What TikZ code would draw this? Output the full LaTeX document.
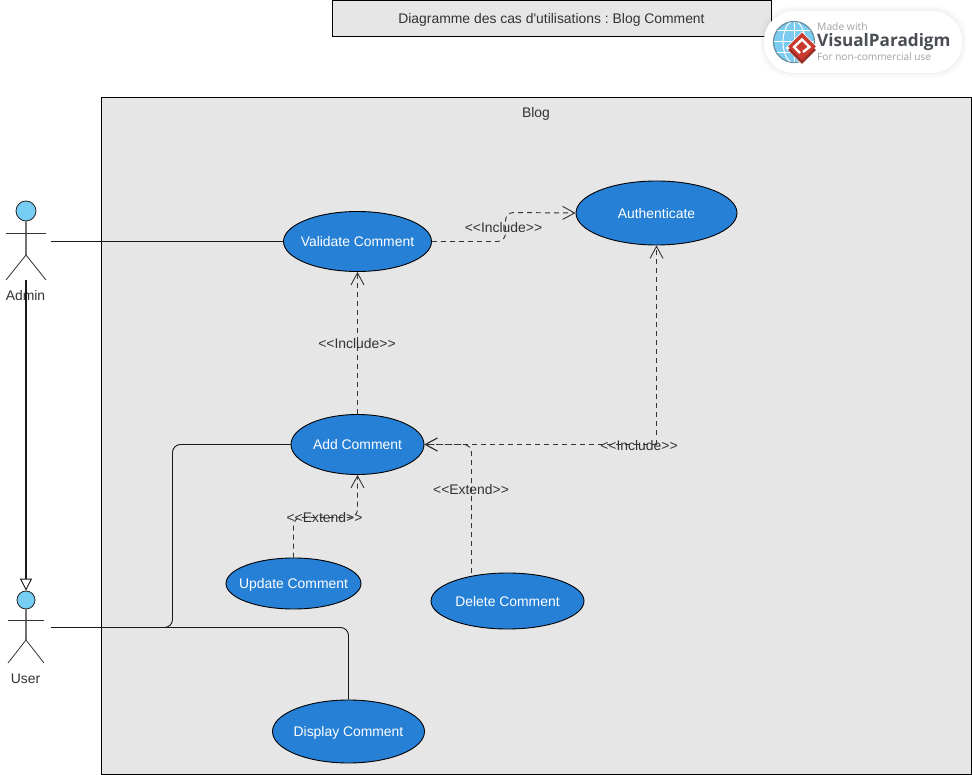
\documentclass[tikz,border=0pt]{standalone}
\usepackage{fontspec}
\setmainfont{Liberation Sans}
\newfontfamily\titlefont{Liberation Sans}
\newfontfamily\logofont{Open Sans}
\usetikzlibrary{arrows.meta,shapes.geometric}
\definecolor{sysfill}{HTML}{E6E6E6}
\definecolor{ucblue}{HTML}{2680D6}
\definecolor{headblue}{HTML}{76CEF5}
\definecolor{inkc}{HTML}{333333}
\definecolor{logogrey}{HTML}{A0A0A0}
\definecolor{logodark}{HTML}{4A4E54}
\definecolor{logored}{HTML}{C93A30}
\definecolor{globeblue}{HTML}{7CCBF0}
\tikzset{
  lbl/.style={font=\fontsize{13.9}{16}\selectfont, text=inkc, inner sep=0pt, text height=11.5pt, text depth=0pt},
  usecase/.style={ellipse, draw=black, line width=0.9pt, fill=ucblue, text=white, inner xsep=-40pt, inner ysep=-5pt,
    text height=10.5pt, text depth=0pt, font=\fontsize{13.9}{16}\selectfont},
  boxed/.style={draw=black, line width=0.9pt, fill=sysfill, outer sep=0pt},
  assoc/.style={draw=black!90, line width=0.9pt, rounded corners=8pt},
  dep/.style={draw=inkc, line width=0.95pt, dash pattern=on 5pt off 4pt, rounded corners=8pt,
    -{Straight Barb[length=12pt,width=13pt,line width=0.9pt]}},
  limb/.style={draw=inkc, line width=0.8pt},
  spine/.style={draw=black!55, line width=1.4pt},
  headc/.style={circle, draw=black!85, line width=0.8pt, fill=headblue, inner sep=0pt},
  gen/.style={draw=black!90, line width=1.7pt,
    -{Triangle[open,length=12pt,width=12pt,line width=0.9pt]}}
}
\begin{document}
\begin{tikzpicture}[x=1pt,y=-1pt]
\useasboundingbox (0,0) rectangle (972,775);
\fill[white] (0,0) rectangle (972,775);
% frames
\node[boxed, minimum width=870pt, minimum height=677pt, inner sep=0pt, anchor=north west] (blog) at (101.5,97.5) {};
\node[lbl] (blogt) at (536,112) {Blog};
\node[boxed, minimum width=439pt, minimum height=36pt, inner sep=0pt, anchor=north west] (title) at (332.5,0.5) {};
\node[lbl] (titlet) at (551.5,18) {\titlefont\frenchspacing Diagramme des cas d'utilisations : Blog Comment};
% logo
\foreach \g/\o in {5/0.006,4/0.008,3/0.01,2/0.012,1/0.015}{
  \fill[black,opacity=\o,rounded corners=31pt] (764-\g,11-\g) rectangle (962+\g,73+\g);}
\fill[white,rounded corners=30pt] (764,11) rectangle (962,73);
\node[circle, draw=black!35!cyan!55!gray, line width=1.2pt, fill=globeblue, minimum size=41pt, inner sep=0pt] (globe) at (794,42) {};
\begin{scope}
\clip (794,42) circle (20pt);
\draw[white,line width=1pt] (794,21)--(794,63) (773,42)--(815,42) (773,31)--(815,31) (773,53)--(815,53);
\draw[white,line width=1pt] (794,42) ellipse (11pt and 21pt);
\end{scope}
\node[diamond, fill=white, minimum size=33pt, inner sep=0pt] (dia0) at (802,48) {};
\node[diamond, fill=logored!75!black, minimum size=28pt, inner sep=0pt] (dia2) at (802,50) {};
\node[diamond, fill=logored, minimum size=28pt, inner sep=0pt] (dia) at (802,46.5) {};
\draw[white,line width=2.4pt] (800,53)--(794,47)--(802,39.5)--(809.5,47)--(803,52);
\node[anchor=west, inner sep=0pt, text=logogrey, font=\logofont\fontsize{10.3}{12}\selectfont] (lg1) at (817,27) {Made with};
\node[anchor=west, inner sep=0pt, text=logodark, font=\logofont\bfseries\fontsize{17.15}{18}\selectfont] (lg2) at (817,42) {VisualParadigm};
\node[anchor=west, inner sep=0pt, text=logogrey, font=\logofont\fontsize{10.1}{12}\selectfont] (lg3) at (817,57) {For non-commercial use};
% use cases
\node[usecase, minimum width=148pt, minimum height=60pt] (validate) at (357.5,241.5) {Validate Comment};
\node[usecase, minimum width=161pt, minimum height=64pt] (auth) at (656.5,213) {Authenticate};
\node[usecase, minimum width=133pt, minimum height=60pt] (add) at (357.5,444.5) {Add Comment};
\node[usecase, minimum width=135pt, minimum height=51pt] (update) at (293.5,583.5) {Update Comment};
\node[usecase, minimum width=153pt, minimum height=56pt] (delete) at (507.5,601) {Delete Comment};
\node[usecase, minimum width=152pt, minimum height=63pt] (display) at (348.5,731.5) {Display Comment};
% actors
\coordinate (adminhand) at (51,241.5);
\coordinate (userhand) at (51,627.5);
\node[headc, minimum size=20pt] (adminhead) at (26,211) {};
\coordinate (adminhip) at (26,255);
\draw[spine] (adminhead.south) -- (adminhip);
\draw[limb] (6,233.5) -- (46,233.5) (6,280) -- (adminhip) -- (46,280);
\node[lbl] (admint) at (25.5,295) {Admin};
\node[headc, minimum size=18pt] (userhead) at (26,600) {};
\coordinate (userhip) at (26,640);
\draw[spine] (userhead.south) -- (userhip);
\draw[limb] (8,620.5) -- (44,620.5) (8,663) -- (userhip) -- (44,663);
\node[lbl] (usert) at (25.5,678) {User};
% generalisation
\coordinate (genstart) at (26,280);
\draw[gen] (genstart) -- (userhead.north);
% associations
\draw[assoc] (adminhand) -- (validate.west);
\draw[assoc] (userhand) -- (172.5,627.5) -- (172.5,444.5) -- (add.west);
\draw[assoc] (userhand) -- (348.5,627.5) -- (display.north);
% dependencies
\draw[dep] (validate.east) -- (505.5,241.5) -- (505.5,212.5) -- (auth.west);
\draw[dep] (add.north) -- (validate.south);
\draw[dep] (656.5,444.5) -- (add.east);
\draw[dep] (656.5,444.5) -- (auth.south);
\draw[dep] (update.north) -- (293.5,517.5) -- (357.5,517.5) -- (add.south);
\draw[dep] (471.5,573) -- (471.5,444.5) -- (add.east);
% labels
\node[lbl] (l1) at (503.5,226.5) {<{}<Include>{}>};
\node[lbl] (l2) at (357,343) {<{}<Include>{}>};
\node[lbl] (l3) at (639,445) {<{}<Include>{}>};
\node[lbl] (l4) at (324.5,516.5) {<{}<Extend>{}>};
\node[lbl] (l5) at (471,489) {<{}<Extend>{}>};
\end{tikzpicture}
\end{document}
